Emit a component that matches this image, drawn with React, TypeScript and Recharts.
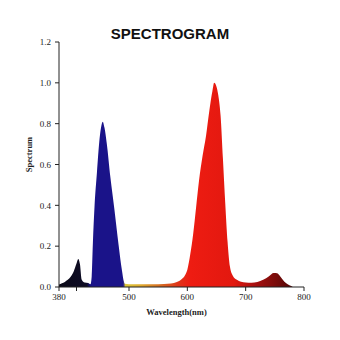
import React from 'react';
import { AreaChart, Area, XAxis, YAxis, Label } from 'recharts';

const wavelengths = [
  380, 385, 390, 395, 400, 405, 410, 413, 416, 419, 424, 430, 434,
  436, 438, 441, 445, 449, 452, 455, 458, 462, 468, 475, 482, 488, 491, 493,
  500, 520, 540, 560, 572, 582, 590, 596, 600, 605, 610, 615, 620, 626, 632,
  638, 643, 646, 649, 653, 657, 661, 665, 669, 673, 678, 685, 692, 700, 710,
  720, 730, 740, 748, 754, 760, 766, 772, 778, 782, 790, 800,
];
const spectrum = [
  0.012, 0.018, 0.025, 0.035, 0.05, 0.075, 0.115, 0.137, 0.11, 0.035, 0.022, 0.02, 0.014,
  0.05, 0.21, 0.4, 0.56, 0.71, 0.78, 0.81, 0.78, 0.7, 0.54, 0.38, 0.21, 0.08, 0.03, 0.016,
  0.014, 0.014, 0.014, 0.015, 0.017, 0.024, 0.038, 0.058, 0.085, 0.16, 0.26, 0.39, 0.52, 0.64, 0.74,
  0.87, 0.96, 1.0, 0.99, 0.94, 0.84, 0.63, 0.41, 0.22, 0.1, 0.055, 0.035, 0.026, 0.022, 0.021,
  0.025, 0.035, 0.053, 0.069, 0.067, 0.049, 0.027, 0.013, 0.005, 0, 0, 0,
];
const xTicks = [380, 410, 500, 600, 700, 800];
const yTicks = [0, 0.2, 0.4, 0.6, 0.8, 1.0, 1.2];

const data = wavelengths.map((wl, i) => ({ wl, v: spectrum[i] }));

// colour stops by wavelength (nm)
const stopWl = [380, 428, 433, 437, 490, 494, 520, 555, 585, 605, 680, 715, 750, 785];
const stopColor = [
  '#0b0a18', '#0e0c26', '#15107a', '#1a1389', '#1a1389', '#dcc83c', '#e0ac30',
  '#d66a22', '#e0341a', '#ee1c12', '#e2180f', '#a81010', '#7c0c0a', '#4a0606',
];

const serif = '"Liberation Serif", "Times New Roman", serif';

export default function App() {
  return (
    <div style={{ position: 'absolute', left: 0, top: 0, width: 340, height: 340, background: '#fff' }}>
      <div
        style={{
          position: 'absolute', left: 0, top: 25, width: 340, textAlign: 'center',
          fontFamily: '"Liberation Sans", Arial, sans-serif', fontWeight: 'bold', fontSize: 15,
          lineHeight: '17px', color: '#111',
        }}
      >
        SPECTROGRAM
      </div>
      <AreaChart width={340} height={340} data={data} margin={{ top: 42, right: 36, left: 0, bottom: 23 }}>
        <defs>
          <linearGradient id="spec" x1="0" y1="0" x2="1" y2="0">
            {stopWl.map((w, i) => (
              <stop key={i} offset={(w - 380) / 420} stopColor={stopColor[i]} />
            ))}
          </linearGradient>
        </defs>
        <XAxis
          dataKey="wl"
          type="number"
          domain={[380, 800]}
          ticks={xTicks}
          tickFormatter={(v: number) => (v === 410 ? '' : String(v))}
          height={30}
          tickSize={4}
          tickMargin={3}
          stroke="#222"
          tick={{ fontFamily: serif, fontSize: 9, fill: '#222' }}
          interval={0}
        >
          <Label
            content={({ viewBox }: any) => (
              <text
                x={viewBox.x + viewBox.width / 2 - 5}
                y={viewBox.y + 28}
                textAnchor="middle"
                fontFamily={serif}
                fontWeight="bold"
                fontSize={8.5}
                fill="#222"
              >
                Wavelength(nm)
              </text>
            )}
          />
        </XAxis>
        <YAxis
          type="number"
          domain={[0, 1.2]}
          ticks={yTicks}
          tickFormatter={(v: number) => v.toFixed(1)}
          width={59}
          tickSize={4}
          tickMargin={4}
          stroke="#222"
          tick={{ fontFamily: serif, fontSize: 9, fill: '#222' }}
          interval={0}
        >
          <Label
            content={({ viewBox }: any) => {
              const cx = viewBox.x + 29;
              const cy = viewBox.y + viewBox.height / 2 - 10;
              return (
                <text
                  x={cx}
                  y={cy}
                  transform={`rotate(-90, ${cx}, ${cy})`}
                  textAnchor="middle"
                  dominantBaseline="central"
                  fontFamily={serif}
                  fontWeight="bold"
                  fontSize={8.5}
                  fill="#222"
                >
                  Spectrum
                </text>
              );
            }}
          />
        </YAxis>
        <Area
          dataKey="v"
          type="monotone"
          stroke="none"
          fill="url(#spec)"
          fillOpacity={1}
          isAnimationActive={false}
          baseValue={0}
        />
      </AreaChart>
    </div>
  );
}
